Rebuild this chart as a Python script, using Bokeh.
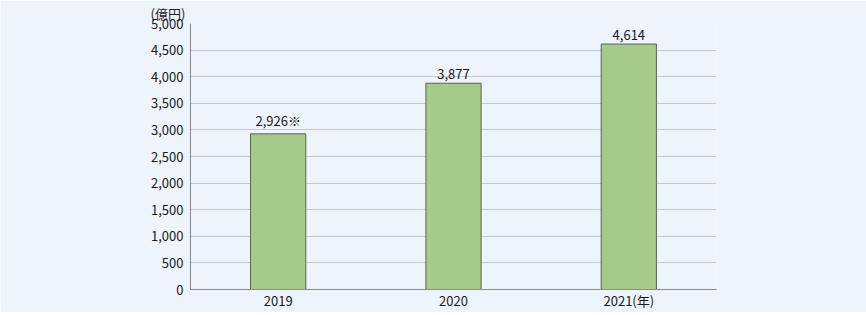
from bokeh.plotting import figure
from bokeh.models import ColumnDataSource, NumeralTickFormatter, FixedTicker
from bokeh.core.properties import value
from bokeh.embed import file_html
from bokeh.resources import INLINE

categories = ["2019", "2020", "2021(年)"]
amounts = [2926, 3877, 4614]
amount_labels = ["2,926※", "3,877", "4,614"]
y_ticks = [0, 500, 1000, 1500, 2000, 2500, 3000, 3500, 4000, 4500, 5000]
unit_label = "(億円)"

FONT = "Noto Sans CJK JP"
BG = "#EDF4FC"

src = ColumnDataSource(dict(cat=categories, amt=amounts, lab=amount_labels))

p = figure(x_range=categories, y_range=(0, 5000), width=866, height=315,
           output_backend="svg", toolbar_location=None,
           title=unit_label,
           min_border_left=190, min_border_right=150, min_border_top=0, min_border_bottom=0)
p.frame_width = 526
p.frame_height = 266
p.background_fill_color = BG
p.border_fill_color = BG
p.outline_line_color = None

p.title.align = "left"
p.title.offset = -40
p.title.standoff = 2
p.title.text_font = FONT
p.title.text_font_size = "13px"
p.title.text_font_style = "normal"
p.title.text_color = "#222222"

p.vbar(x="cat", top="amt", width=0.315, source=src,
       fill_color="#A6CA8A", line_color="#5A6452", line_width=1)

p.text(x="cat", y="amt", text="lab", source=src, text_align="center",
       text_baseline="bottom", y_offset=-4, text_font=value(FONT),
       text_font_size="13px", text_color="#1A1A1A")

p.xgrid.grid_line_color = None
p.ygrid.grid_line_color = "#C9C9C9"
p.ygrid.grid_line_width = 1
p.yaxis.ticker = FixedTicker(ticks=y_ticks)
p.yaxis.formatter = NumeralTickFormatter(format="0,0")

for ax in (p.xaxis[0], p.yaxis[0]):
    ax.axis_line_color = "#8A8A8A"
    ax.major_tick_line_color = None
    ax.minor_tick_line_color = None
    ax.major_tick_out = 0
    ax.major_tick_in = 0
    ax.minor_tick_out = 0
    ax.minor_tick_in = 0
    ax.major_label_text_font = FONT
    ax.major_label_text_font_size = "13px"
    ax.major_label_text_color = "#1A1A1A"
p.yaxis.major_label_standoff = 7
p.xaxis.major_label_standoff = 1

open("out.html", "w").write(file_html(p, INLINE))
